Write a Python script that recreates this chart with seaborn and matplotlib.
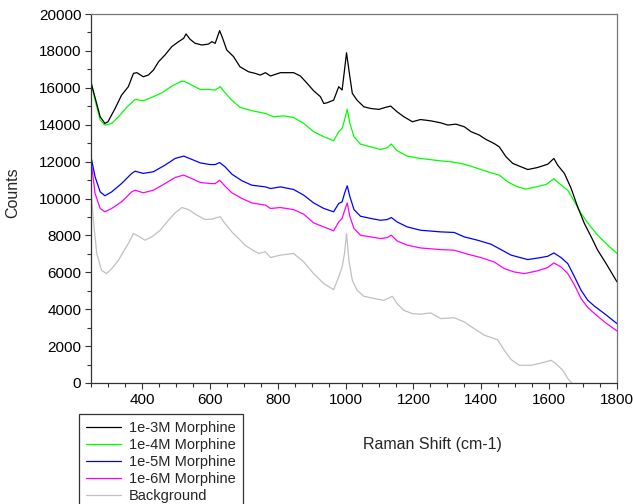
import numpy as np
import pandas as pd
import matplotlib
matplotlib.use('Agg')
import matplotlib.pyplot as plt
import seaborn as sns
from matplotlib.ticker import MultipleLocator

# Raman spectra (Raman shift in cm-1, counts)
shift_3m = [250, 277, 291, 300, 321, 340, 360, 375, 385, 404, 419, 434, 449, 468, 488, 508, 523, 530,
            542, 557, 577, 596, 606, 616, 629, 638, 650, 670, 689, 714, 734, 749, 764, 779, 808, 847,
            867, 887, 906, 926, 936, 946, 965, 980, 990, 997, 1003, 1010, 1020, 1034, 1054, 1074, 1098,
            1118, 1133, 1152, 1172, 1197, 1221, 1251, 1281, 1301, 1325, 1350, 1370, 1394, 1414, 1438,
            1453, 1473, 1493, 1517, 1537, 1566, 1596, 1614, 1625, 1645, 1665, 1684, 1704, 1724, 1743,
            1768, 1800]
counts_3m = [16300, 14430, 14070, 14160, 14880, 15600, 16060, 16780, 16820, 16600, 16690, 16960, 17410,
             17780, 18230, 18500, 18680, 18920, 18630, 18410, 18320, 18370, 18500, 18410, 19100, 18680,
             18050, 17690, 17140, 16870, 16780, 16690, 16820, 16640, 16820, 16820, 16640, 16240, 15840,
             15520, 15150, 15190, 15330, 16060, 15880, 16960, 17900, 16960, 15700, 15330, 14970, 14880,
             14830, 14940, 15010, 14700, 14430, 14160, 14280, 14210, 14100, 13980, 14030, 13890, 13620,
             13440, 13200, 12980, 12800, 12260, 11900, 11720, 11570, 11680, 11860, 12170, 11810, 11360,
             10540, 9550, 8640, 7920, 7200, 6470, 5480]

shift_4m = [250, 262, 277, 291, 311, 331, 355, 380, 404, 429, 459, 488, 518, 527, 547, 572, 596, 616,
            631, 645, 665, 689, 724, 764, 788, 818, 847, 877, 906, 936, 965, 980, 990, 997, 1005, 1013,
            1025, 1044, 1074, 1103, 1123, 1135, 1152, 1182, 1221, 1281, 1311, 1340, 1370, 1399, 1429,
            1453, 1478, 1507, 1532, 1561, 1591, 1614, 1630, 1655, 1675, 1694, 1719, 1743, 1773, 1800]
counts_4m = [16300, 15330, 14250, 13980, 14070, 14430, 14940, 15370, 15300, 15480, 15730, 16090, 16370,
             16330, 16150, 15910, 15910, 15880, 16060, 15730, 15330, 14940, 14760, 14610, 14430, 14480,
             14390, 14070, 13620, 13350, 13130, 13620, 13800, 14250, 14830, 14070, 13350, 12950, 12800,
             12660, 12750, 12950, 12590, 12300, 12170, 12040, 11990, 11900, 11750, 11570, 11390, 11270,
             10900, 10630, 10510, 10630, 10760, 11070, 10810, 10450, 9820, 9190, 8550, 8010, 7470, 7020]

shift_5m = [250, 262, 277, 291, 311, 340, 370, 380, 404, 434, 468, 498, 523, 547, 572, 601, 616, 629,
            645, 665, 695, 724, 764, 779, 808, 847, 877, 906, 936, 965, 980, 990, 997, 1005, 1013, 1025,
            1044, 1074, 1103, 1123, 1135, 1152, 1182, 1221, 1281, 1320, 1350, 1389, 1429, 1458, 1488,
            1537, 1576, 1596, 1614, 1635, 1655, 1675, 1694, 1714, 1734, 1763, 1800]
counts_5m = [12260, 11180, 10360, 10150, 10360, 10810, 11360, 11480, 11360, 11450, 11810, 12170, 12300,
             12120, 11930, 11840, 11840, 11950, 11720, 11320, 10960, 10720, 10630, 10540, 10630, 10490,
             10180, 9760, 9460, 9280, 9730, 9820, 10270, 10690, 10090, 9400, 9040, 8920, 8820, 8860,
             8970, 8730, 8460, 8280, 8190, 8160, 7920, 7740, 7520, 7230, 6930, 6690, 6800, 6870, 7050,
             6800, 6470, 5750, 5030, 4480, 4160, 3760, 3220]

shift_6m = [250, 262, 277, 291, 311, 340, 370, 380, 404, 434, 468, 498, 523, 547, 572, 601, 616, 629,
            645, 665, 695, 724, 764, 779, 808, 847, 877, 906, 936, 965, 980, 990, 997, 1005, 1013, 1025,
            1044, 1074, 1103, 1123, 1135, 1152, 1182, 1221, 1281, 1320, 1360, 1399, 1438, 1468, 1497,
            1527, 1566, 1596, 1614, 1635, 1655, 1675, 1694, 1714, 1734, 1763, 1800]
counts_6m = [12080, 10270, 9460, 9280, 9460, 9820, 10360, 10450, 10310, 10450, 10810, 11140, 11270,
             11080, 10870, 10810, 10810, 10990, 10670, 10310, 10000, 9760, 9640, 9460, 9510, 9400, 9150,
             8680, 8460, 8250, 8730, 8920, 9330, 9760, 9010, 8370, 8010, 7920, 7830, 7880, 8010, 7700,
             7470, 7320, 7230, 7200, 6980, 6800, 6560, 6200, 6020, 5930, 6080, 6260, 6510, 6290, 5930,
             5300, 4580, 4090, 3760, 3310, 2820]

shift_bg = [250, 257, 267, 281, 296, 311, 331, 345, 360, 375, 390, 409, 429, 454, 478, 498, 518, 537,
            562, 586, 606, 621, 631, 645, 665, 685, 704, 724, 744, 764, 779, 808, 847, 877, 906, 936,
            965, 980, 990, 997, 1003, 1010, 1020, 1034, 1054, 1084, 1113, 1138, 1152, 1172, 1197, 1221,
            1251, 1281, 1320, 1350, 1379, 1409, 1448, 1468, 1488, 1512, 1547, 1576, 1606, 1620, 1640,
            1655, 1667]
counts_bg = [10450, 8820, 7020, 6110, 5930, 6200, 6650, 7110, 7560, 8100, 7960, 7740, 7920, 8280, 8820,
             9220, 9510, 9400, 9100, 8860, 8880, 8970, 9010, 8640, 8190, 7830, 7470, 7230, 7020, 7110,
             6800, 6930, 7020, 6560, 5930, 5390, 5060, 5750, 6290, 7020, 8100, 6650, 5570, 5030, 4700,
             4580, 4480, 4700, 4300, 3940, 3760, 3730, 3800, 3490, 3540, 3310, 2950, 2590, 2350, 1770,
             1270, 960, 960, 1080, 1230, 1050, 690, 240, 0]

labels = ['1e-3M Morphine', '1e-4M Morphine', '1e-5M Morphine', '1e-6M Morphine', 'Background']
colors = ['#000000', '#00ff00', '#0000ff', '#ff00ff', '#c0c0c0']

series = [(shift_3m, counts_3m), (shift_4m, counts_4m), (shift_5m, counts_5m),
          (shift_6m, counts_6m), (shift_bg, counts_bg)]

sns.set_style('white')
plt.rcParams['font.family'] = ['Liberation Sans', 'DejaVu Sans']

fig = plt.figure(figsize=(6.33, 5.04), dpi=100)
ax = fig.add_axes([91 / 633, 1 - 383 / 504, (617 - 91) / 633, (383 - 14) / 504])

# Draw background first so the sample spectra sit on top
for i in [4, 3, 2, 1, 0]:
    x, y = series[i]
    df = pd.DataFrame({'shift': x, 'counts': y})
    sns.lineplot(data=df, x='shift', y='counts', color=colors[i], linewidth=0.9,
                 label=labels[i], sort=False, estimator=None, ax=ax)

ax.set_xlim(250, 1800)
ax.set_ylim(0, 20000)
ax.xaxis.set_major_locator(MultipleLocator(200))
ax.xaxis.set_minor_locator(MultipleLocator(50))
ax.yaxis.set_major_locator(MultipleLocator(2000))
ax.yaxis.set_minor_locator(MultipleLocator(1000))
ax.set_xticks([400, 600, 800, 1000, 1200, 1400, 1600, 1800])
ax.tick_params(axis='both', which='major', direction='out', length=4, width=0.8,
               labelsize=11, colors='#333333', labelcolor='black', pad=3,
               bottom=True, left=True)
ax.tick_params(axis='both', which='minor', direction='out', length=3, width=0.8,
               colors='#333333', bottom=True, left=True)
for side in ['left', 'bottom']:
    ax.spines[side].set_color('#333333')
    ax.spines[side].set_linewidth(0.9)
for side in ['top', 'right']:
    ax.spines[side].set_color('#777777')
    ax.spines[side].set_linewidth(0.9)

ax.set_xlabel('Raman Shift (cm-1)', fontsize=11.5)
ax.set_ylabel('Counts', fontsize=11.5)
ax.xaxis.set_label_coords((432 - 91) / (617 - 91), -(437 - 383) / (383 - 14))
ax.yaxis.set_label_coords(-(91 - 20) / (617 - 91), (383 - 193) / (383 - 14))

handles, labs = ax.get_legend_handles_labels()
ax.get_legend().remove()
order = [labs.index(l) for l in labels]
leg = fig.legend([handles[k] for k in order], labels, loc='upper left',
                 bbox_to_anchor=(79 / 633, 1 - 414 / 504), fontsize=10.5,
                 frameon=True, fancybox=False, edgecolor='#333333', framealpha=1,
                 handlelength=2.35, handletextpad=0.55, borderpad=0.5,
                 labelspacing=0.2, borderaxespad=0)
leg.get_frame().set_linewidth(0.9)

fig.savefig('out.png', dpi=100)
